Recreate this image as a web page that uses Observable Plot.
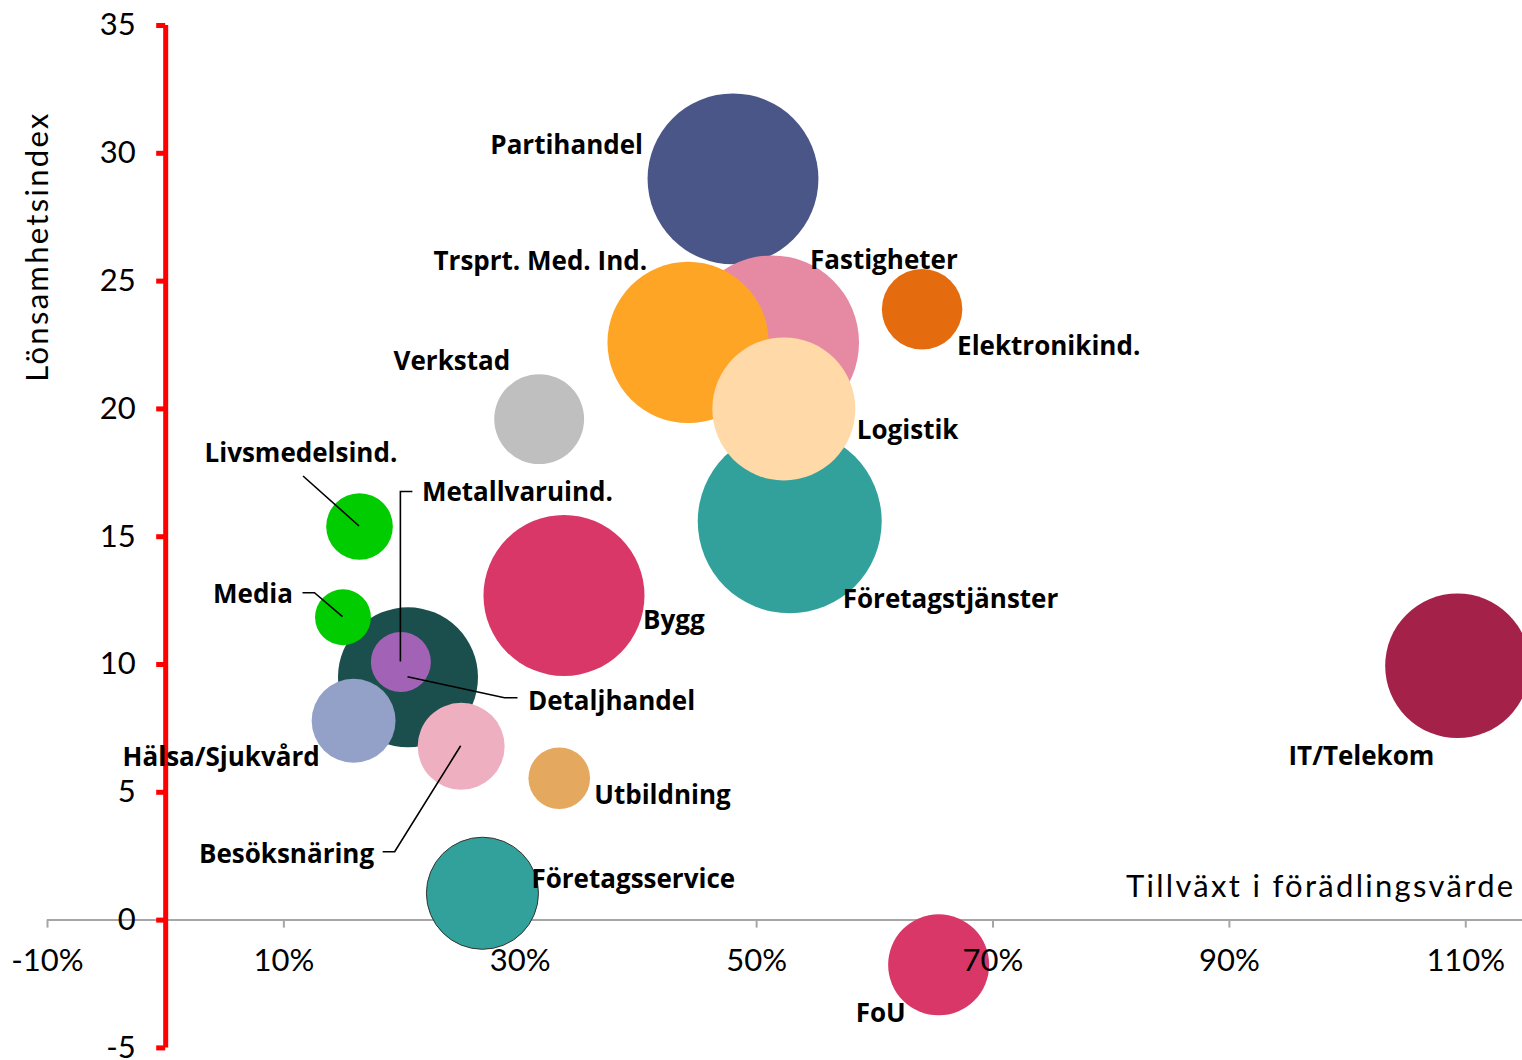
<!DOCTYPE html>
<html>
<head>
<meta charset="utf-8">
<script src="https://cdn.jsdelivr.net/npm/d3@7"></script>
<script src="https://cdn.jsdelivr.net/npm/@observablehq/plot@0.6"></script>
<style>
  html, body { margin: 0; padding: 0; background: #fff; overflow: hidden; }
  #chart svg { display: block; }
</style>
</head>
<body>
<div id="chart"></div>
<script>
// ---- Data ----
const branscher = [
  "Partihandel", "Fastigheter", "Trsprt. Med. Ind.", "Elektronikind.", "Verkstad",
  "Företagstjänster", "Logistik", "Bygg", "Detaljhandel", "Livsmedelsind.",
  "Media", "Metallvaruind.", "Hälsa/Sjukvård", "Besöksnäring", "Utbildning",
  "Företagsservice", "FoU", "IT/Telekom"
];
// Tillväxt i förädlingsvärde (%)
const tillvaxt = [48.0, 51.3, 44.2, 64.0, 31.6, 52.8, 52.3, 33.7, 20.5, 16.4, 15.0, 19.9, 15.9, 25.0, 33.3, 26.8, 65.4, 109.3];
// Lönsamhetsindex
const lonsamhet = [29.0, 22.6, 22.6, 23.9, 19.6, 15.6, 20.0, 12.7, 9.5, 15.4, 11.85, 10.1, 7.8, 6.8, 5.55, 1.05, -1.75, 9.95];
// Bubbelstorlek
const storlek = [73, 75.7, 65, 16.2, 20.2, 84.6, 51.1, 64.8, 49, 11.1, 7.8, 9.0, 17.6, 18.9, 9.5, 31.4, 25.5, 52.3];
const farger = [
  "#4A5687", "#E689A2", "#FEA526", "#E46C0E", "#BFBFBF",
  "#33A19B", "#FFD9A7", "#D83767", "#1B4F4E", "#00CC00",
  "#00CC00", "#A263B6", "#93A0C8", "#EEAFC1", "#E5A85F",
  "#33A19B", "#D83767", "#A4224A"
];
const xTicks = [-10, 10, 30, 50, 70, 90, 110];
const yTicks = [-5, 0, 5, 10, 15, 20, 25, 30, 35];
const xTitle = "Tillväxt i förädlingsvärde";
const yTitle = "Lönsamhetsindex";

// ---- Layout of annotations (pixel offsets from bubble centres) ----
const labelLayout = {
  "Partihandel":        {dx: -90,  dy: -33,  anchor: "end"},
  "Fastigheter":        {dx: 38,   dy: -82,  anchor: "start"},
  "Trsprt. Med. Ind.":  {dx: -41,  dy: -81,  anchor: "end"},
  "Elektronikind.":     {dx: 35,   dy: 37,   anchor: "start"},
  "Verkstad":           {dx: -29,  dy: -57,  anchor: "end"},
  "Företagstjänster":   {dx: 53,   dy: 78,   anchor: "start"},
  "Logistik":           {dx: 73,   dy: 22,   anchor: "start"},
  "Bygg":               {dx: 79,   dy: 25,   anchor: "start"},
  "Detaljhandel":       {dx: 120,  dy: 24,   anchor: "start"},
  "Livsmedelsind.":     {dx: -155, dy: -73,  anchor: "start"},
  "Media":              {dx: -50,  dy: -23,  anchor: "end"},
  "Metallvaruind.":     {dx: 21,   dy: -169, anchor: "start"},
  "Hälsa/Sjukvård":     {dx: -231, dy: 37,   anchor: "start"},
  "Besöksnäring":       {dx: -87,  dy: 108,  anchor: "end"},
  "Utbildning":         {dx: 35,   dy: 17,   anchor: "start"},
  "Företagsservice":    {dx: 49,   dy: -14,  anchor: "start"},
  "FoU":                {dx: -83,  dy: 49,   anchor: "start"},
  "IT/Telekom":         {dx: -169, dy: 91,   anchor: "start"}
};
const leaderLayout = [
  {name: "Livsmedelsind.", pts: [[-56, -50]]},
  {name: "Media",          pts: [[-28, -24], [-40, -24]]},
  {name: "Metallvaruind.", pts: [[0, -170], [12, -170]]},
  {name: "Detaljhandel",   pts: [[97, 21], [110, 21]]},
  {name: "Besöksnäring",   pts: [[-66, 106], [-78, 106]]}
];

const data = branscher.map((name, i) => ({
  name, x: tillvaxt[i], y: lonsamhet[i], size: storlek[i], color: farger[i]
}));
const byName = new Map(data.map(d => [d.name, d]));

function leaders(index, scales) {
  const g = d3.create("svg:g")
    .attr("fill", "none").attr("stroke", "#000").attr("stroke-width", 1.6);
  for (const L of leaderLayout) {
    const d = byName.get(L.name);
    const cx = scales.x(d.x), cy = scales.y(d.y);
    const pts = [[cx, cy], ...L.pts.map(([ox, oy]) => [cx + ox, cy + oy])];
    g.append("path").attr("d", d3.line()(pts));
  }
  return g.node();
}

const labelMarks = data.map(d => {
  const L = labelLayout[d.name];
  return Plot.text([d], {
    x: "x", y: "y", text: "name",
    dx: L.dx, dy: L.dy, textAnchor: L.anchor, lineAnchor: "middle",
    fontSize: 26, fontWeight: "bold", fontFamily: "Open Sans", fill: "#000"
  });
});

const plot = Plot.plot({
  width: 1522,
  height: 1060,
  marginLeft: 47,
  marginRight: 0,
  marginTop: 25,
  marginBottom: 12.6,
  x: {domain: [-10, 114.8], axis: null},
  y: {domain: [-5, 35], axis: null},
  r: {type: "sqrt", domain: [0, 100], range: [0, 100]},
  color: {type: "identity"},
  style: {fontFamily: "Lato", background: "#fff", overflow: "visible", color: "#000"},
  marks: [
    // x axis along y = 0
    Plot.ruleY([0], {stroke: "#A6A6A6", strokeWidth: 2}),
    Plot.ruleX(xTicks, {x: d => d, y1: 0, y2: 0, insetBottom: -8, stroke: "#A6A6A6", strokeWidth: 2}),
    // red y axis at x = 0
    Plot.ruleX([0], {stroke: "#FF0000", strokeWidth: 5}),
    Plot.ruleY(yTicks, {y: d => d, x1: 0, x2: 0, insetLeft: -9, stroke: "#FF0000", strokeWidth: 5}),
    // bubbles
    Plot.dot(data, {x: "x", y: "y", r: "size", fill: "color", sort: null}),
    Plot.dot(data, {filter: d => d.name === "Företagsservice", x: "x", y: "y", r: "size", fill: "none", stroke: "#333", strokeWidth: 1}),
    leaders,
    // tick labels
    Plot.text(xTicks, {x: d => d, y: 0, dy: 41, text: d => `${d}%`, fontSize: 31, fill: "#000", fontFamily: "Lato"}),
    Plot.text(yTicks, {x: 0, y: d => d, dx: -30, textAnchor: "end", text: d => String(d), fontSize: 31, fill: "#000", fontFamily: "Lato"}),
    // axis titles
    Plot.text([xTitle], {frameAnchor: "right", y: () => 0, dx: -7, dy: -33, textAnchor: "end", fontSize: 31, fill: "#000", fontFamily: "Lato"}),
    Plot.text([yTitle], {frameAnchor: "top-left", dx: -22, dy: 221, rotate: -90, textAnchor: "middle", fontSize: 31, fill: "#000", fontFamily: "Lato"}),
    ...labelMarks
  ]
});

document.getElementById("chart").appendChild(plot);
// letter spacing for the axis titles
d3.select(plot).selectAll("text").filter(function() {
  const t = this.textContent; return t === xTitle || t === yTitle;
}).style("letter-spacing", "2.3px");
</script>
</body>
</html>
